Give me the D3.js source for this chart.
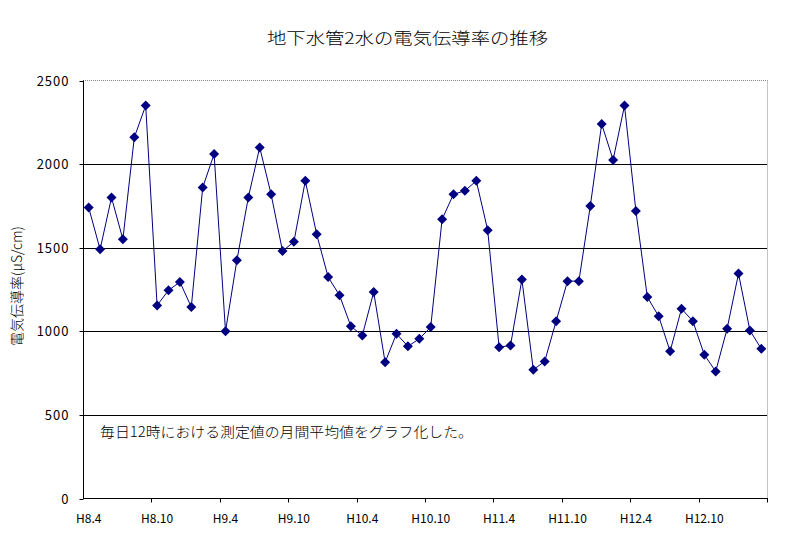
<!DOCTYPE html>
<html><head><meta charset="utf-8">
<script src="https://cdn.jsdelivr.net/npm/d3@7"></script>
<style>body{margin:0;background:#fff}svg{display:block}</style>
</head><body>
<script>
const months = [
 "H8.4","H8.5","H8.6","H8.7","H8.8","H8.9","H8.10","H8.11","H8.12","H9.1","H9.2","H9.3",
 "H9.4","H9.5","H9.6","H9.7","H9.8","H9.9","H9.10","H9.11","H9.12","H10.1","H10.2","H10.3",
 "H10.4","H10.5","H10.6","H10.7","H10.8","H10.9","H10.10","H10.11","H10.12","H11.1","H11.2","H11.3",
 "H11.4","H11.5","H11.6","H11.7","H11.8","H11.9","H11.10","H11.11","H11.12","H12.1","H12.2","H12.3",
 "H12.4","H12.5","H12.6","H12.7","H12.8","H12.9","H12.10","H12.11","H12.12","H13.1","H13.2","H13.3"];
const conductivity = [
 1740,1490,1800,1550,2160,2350,1155,1245,1295,1145,1860,2060,
 1000,1425,1800,2100,1820,1480,1535,1900,1580,1325,1215,1030,
 975,1235,815,985,910,955,1025,1670,1820,1840,1900,1605,
 905,915,1310,770,820,1060,1300,1300,1750,2240,2025,2350,
 1720,1205,1090,880,1135,1060,860,760,1015,1345,1005,895];
const tickLabels = ["H8.4","H8.10","H9.4","H9.10","H10.4","H10.10","H11.4","H11.10","H12.4","H12.10"];
const yTicks = [0,500,1000,1500,2000,2500];
const title = "地下水管2水の電気伝導率の推移";
const yTitle = "電気伝導率(μS/cm)";
const note = "毎日12時における測定値の月間平均値をグラフ化した。";

const W = 797, H = 535;
const L = 83, R = 767, T = 80.5, B = 498.5;
const font = "'MS PGothic','Noto Sans CJK JP',sans-serif";

const svg = d3.select("body").append("svg").attr("width", W).attr("height", H)
  .style("font-family", font);
svg.append("rect").attr("width", W).attr("height", H).attr("fill", "#fff");

const x = d3.scaleBand().domain(months).range([L, R]).padding(0);
const y = d3.scaleLinear().domain([0, 2500]).range([B, T]);
const cx = m => x(m) + x.bandwidth() / 2;

// gridlines
svg.append("g").selectAll("line").data(yTicks.filter(v => v > 0 && v < 2500)).join("line")
  .attr("x1", L).attr("x2", R).attr("y1", d => Math.round(y(d)) + 0.5).attr("y2", d => Math.round(y(d)) + 0.5)
  .attr("stroke", "#000").attr("stroke-width", 1);
// plot border top/right dashed grey
svg.append("line").attr("x1", L).attr("x2", R + 0.5).attr("y1", T).attr("y2", T)
  .attr("stroke", "#888").attr("stroke-dasharray", "1,1");
svg.append("line").attr("x1", R + 0.5).attr("x2", R + 0.5).attr("y1", T).attr("y2", B)
  .attr("stroke", "#888").attr("stroke-dasharray", "1,1");

// y axis
const yAxis = d3.axisLeft(y).tickValues(yTicks).tickSize(4).tickPadding(10).tickFormat(d3.format("d"));
const gy = svg.append("g").attr("transform", `translate(${L + 0.5},0)`).call(yAxis);
gy.select(".domain").remove();
gy.selectAll(".tick line").attr("stroke", "#000");
gy.selectAll(".tick").attr("transform", d => `translate(0,${Math.round(y(d)) + 0.5})`);
gy.selectAll("text").attr("font-size", 13).attr("fill", "#000").style("font-family", font)
  .style("letter-spacing", "1px");
svg.append("line").attr("x1", L + 0.5).attr("x2", L + 0.5).attr("y1", T).attr("y2", B + 0.5).attr("stroke", "#000");

// x axis
svg.append("line").attr("x1", L).attr("x2", R + 1).attr("y1", B).attr("y2", B).attr("stroke", "#000");
const tickIdx = months.map((m, i) => i).filter(i => i % 6 === 0 && i > 0);
svg.append("g").selectAll("line").data(tickIdx.concat([months.length])).join("line")
  .attr("x1", i => Math.round(i < months.length ? x(months[i]) : R) + 0.5)
  .attr("x2", i => Math.round(i < months.length ? x(months[i]) : R) + 0.5)
  .attr("y1", B).attr("y2", B + 4).attr("stroke", "#000");
svg.append("g").selectAll("text").data(tickLabels).join("text")
  .attr("x", d => cx(d)).attr("y", 523).attr("text-anchor", "middle")
  .attr("font-size", 12).attr("fill", "#000").text(d => d);

// line + markers
const pts = months.map((m, i) => ({m, v: conductivity[i]}));
svg.append("path").datum(pts)
  .attr("d", d3.line().x(d => cx(d.m)).y(d => y(d.v)))
  .attr("fill", "none").attr("stroke", "#000080").attr("stroke-width", 1);
svg.append("g").selectAll("path").data(pts).join("path")
  .attr("transform", d => `translate(${cx(d.m)},${y(d.v)})`)
  .attr("d", "M0,-5L5,0L0,5L-5,0Z").attr("fill", "#000080");

// titles
svg.append("text").attr("x", 267).attr("y", 44).attr("font-size", 16).attr("font-weight", 300)
  .attr("textLength", 281).attr("lengthAdjust", "spacingAndGlyphs").attr("fill", "#000").text(title);
svg.append("text").attr("transform", "translate(22,286) rotate(-90)").attr("text-anchor", "middle")
  .attr("font-size", 14).attr("font-weight", 300).attr("fill", "#000").text(yTitle);
svg.append("text").attr("x", 100).attr("y", 437).attr("font-size", 14).attr("font-weight", 300)
  .attr("textLength", 373).attr("lengthAdjust", "spacingAndGlyphs").attr("fill", "#000").text(note);
</script>
</body></html>
